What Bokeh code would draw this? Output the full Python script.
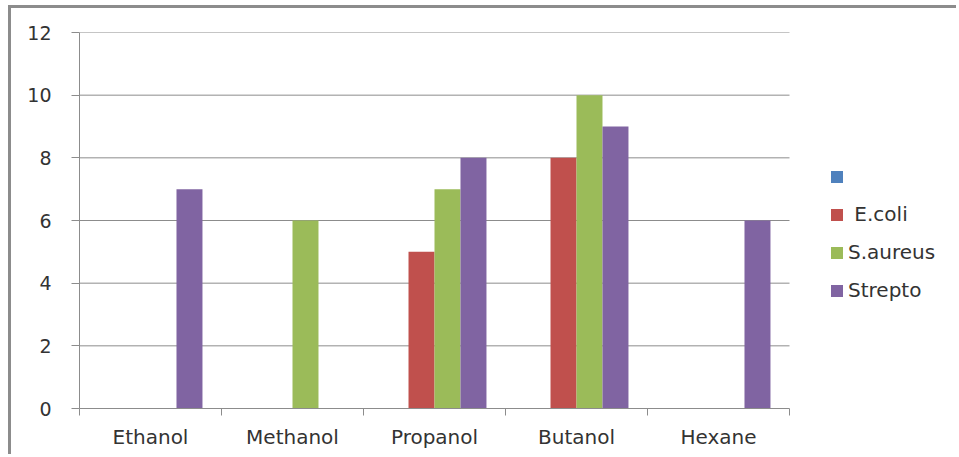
from bokeh.plotting import figure
from bokeh.models import (ColumnDataSource, FixedTicker, Legend, LegendItem)
from bokeh.transform import dodge
from bokeh.embed import file_html
from bokeh.resources import INLINE

categories = ["Ethanol", "Methanol", "Propanol", "Butanol", "Hexane"]
series_names = ["", "E.coli", "S.aureus", "Strepto"]
blank = [0, 0, 0, 0, 0]
ecoli = [0, 0, 5, 8, 0]
saureus = [0, 6, 7, 10, 0]
strepto = [7, 0, 8, 9, 6]
y_ticks = [0, 2, 4, 6, 8, 10, 12]

colors = ["#4F81BD", "#C0504D", "#9BBB59", "#8064A2"]
FONT = "DejaVu Sans"
TXT = "#333333"
GREY = "#8c8c8c"

n = len(categories)
src = ColumnDataSource(dict(
    x=[i + 0.5 for i in range(n)],
    blank=blank, ecoli=ecoli, saureus=saureus, strepto=strepto,
))

# frame spans to the right edge so that the legend can live inside it;
# the categories occupy 710 of the 880 frame pixels
frame_w, plot_w = 880, 710
p = figure(width=948, height=449, output_backend="svg", toolbar_location=None,
           x_range=(0, n * frame_w / plot_w), y_range=(0, 12),
           min_border_left=68, min_border_top=24, min_border_right=0,
           min_border_bottom=49, margin=(5, 0, 0, 8),
           styles={"border-left": "3px solid #8c8c8c", "border-top": "3px solid #8c8c8c"})
p.outline_line_color = None
p.background_fill_color = "white"
p.border_fill_color = "white"

# horizontal gridlines limited to the category area
gl = [t for t in y_ticks if t > 0]
p.segment(x0=[0] * len(gl), x1=[n] * len(gl), y0=gl, y1=gl,
          line_color=GREY, line_width=1)

bw = 0.183
offsets = [-1.5 * bw, -0.5 * bw, 0.5 * bw, 1.5 * bw]
fields = ["blank", "ecoli", "saureus", "strepto"]
renderers = []
for f, off, c in zip(fields, offsets, colors):
    r = p.vbar(x=dodge("x", off, range=p.x_range), top=f, width=bw, bottom=0,
               source=src, fill_color=c, line_color=None)
    renderers.append(r)

# axes
p.xgrid.grid_line_color = None
p.ygrid.grid_line_color = None
p.yaxis.ticker = FixedTicker(ticks=y_ticks)
p.yaxis.axis_line_color = GREY
p.yaxis.major_tick_line_color = GREY
p.yaxis.major_tick_out = 8
p.yaxis.major_tick_in = 0
p.yaxis.minor_tick_line_color = None
p.yaxis.major_label_standoff = 20
p.yaxis.major_label_text_font = FONT
p.yaxis.major_label_text_font_size = "19px"
p.yaxis.major_label_text_color = TXT

p.xaxis.bounds = (0, n)
p.xaxis.ticker = FixedTicker(ticks=[i + 0.5 for i in range(n)],
                             minor_ticks=list(range(n + 1)))
p.xaxis.major_label_overrides = {i + 0.5: c for i, c in enumerate(categories)}
p.xaxis.axis_line_color = GREY
p.xaxis.major_tick_line_color = None
p.xaxis.major_tick_out = 0
p.xaxis.major_tick_in = 0
p.xaxis.minor_tick_line_color = GREY
p.xaxis.minor_tick_out = 7
p.xaxis.minor_tick_in = 0
p.xaxis.major_label_standoff = 9
p.xaxis.major_label_text_font = FONT
p.xaxis.major_label_text_font_size = "20px"
p.xaxis.major_label_text_color = TXT

labels = ["\u00a0", "\u00a0E.coli", "S.aureus", "Strepto"]
items = [LegendItem(label=l, renderers=[r]) for l, r in zip(labels, renderers)]
legend = Legend(items=items, location=(750, 106), border_line_color=None,
                background_fill_alpha=0, padding=0, margin=0, spacing=14,
                glyph_width=15, glyph_height=15, label_standoff=4,
                label_text_font=FONT, label_text_font_size="20px",
                label_text_color=TXT)
p.add_layout(legend, "center")

open("out.html", "w").write(file_html(p, INLINE))
